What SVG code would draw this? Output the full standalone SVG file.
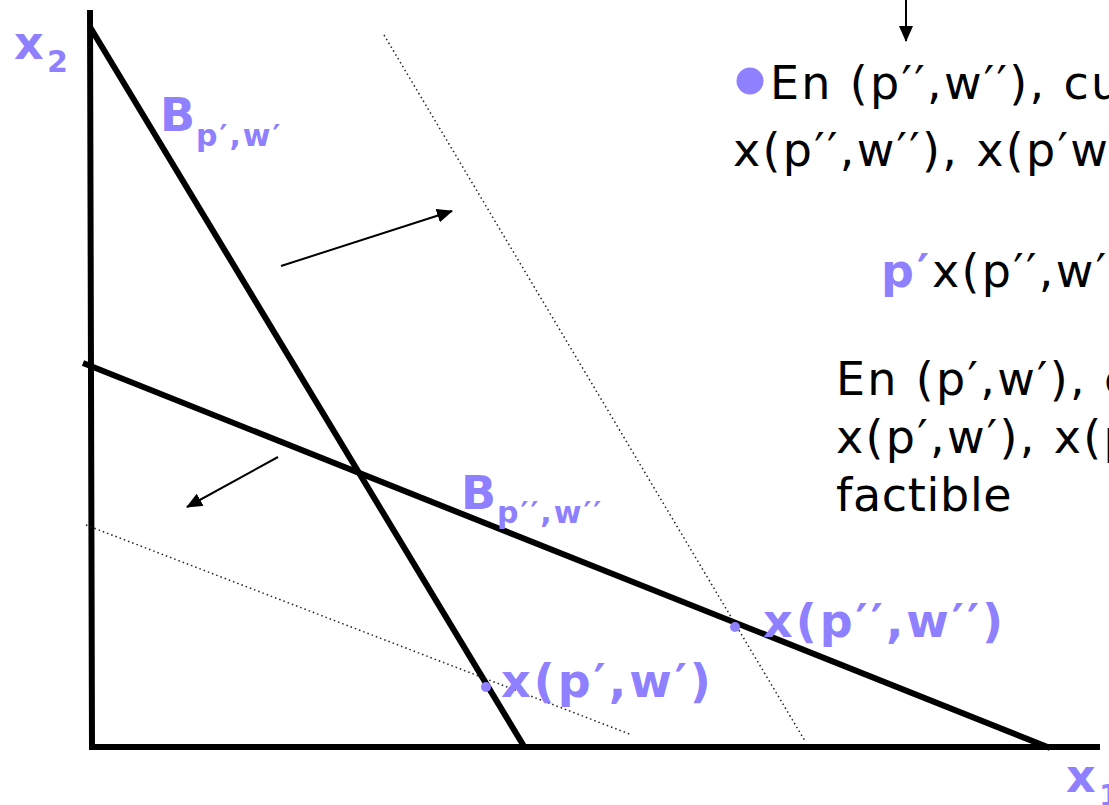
<svg xmlns="http://www.w3.org/2000/svg" width="1109" height="805" viewBox="0 0 1109 805">
<style>
.bold{stroke:#000;stroke-width:6;fill:none}
.dot{stroke:#222;stroke-width:1.5;fill:none;stroke-dasharray:1.5 3}
.arr{stroke:#000;stroke-width:2;fill:none;marker-end:url(#ah)}
.t{font-family:"DejaVu Sans",Verdana,sans-serif;font-size:46px;fill:#000;letter-spacing:2.3px}
.p{font-family:"DejaVu Sans",Verdana,sans-serif;font-weight:bold;fill:#8F80FF}
.L{font-size:46px;letter-spacing:3px}
.S{font-size:30px;letter-spacing:2px}
</style>
<defs>
<marker id="ah" viewBox="0 0 16 14" refX="15" refY="7" markerWidth="16" markerHeight="14" markerUnits="userSpaceOnUse" orient="auto">
<path d="M0,0 L16,7 L0,14 z" fill="#000"/>
</marker>
</defs>
<rect width="1109" height="805" fill="#fff"/>
<g id="axes">
<path class="bold" d="M90,10 L92,747 L1100,747" stroke-linejoin="miter"/>
</g>
<g id="connectors">
<line class="bold" x1="90" y1="27" x2="525" y2="748"/>
<line class="bold" x1="83" y1="363" x2="1050" y2="748"/>
<line class="dot" x1="384" y1="35" x2="805" y2="741"/>
<line class="dot" x1="86" y1="525" x2="632" y2="735"/>
<line class="arr" x1="281" y1="266" x2="452" y2="211"/>
<line class="arr" x1="278" y1="457" x2="187" y2="507"/>
<line class="arr" x1="906" y1="0" x2="906" y2="41"/>
</g>
<g id="label-x2"><text class="p L" x="14" y="59">x</text><text class="p S" x="47" y="72">2</text></g>
<g id="label-x1"><text class="p L" x="1066" y="792">x</text><text class="p S" x="1099" y="806">1</text></g>
<g id="label-Bpw"><text class="p L" x="160" y="131">B</text><text class="p S" x="196" y="146">p′,w′</text></g>
<g id="label-Bpw2"><text class="p L" x="461" y="509">B</text><text class="p S" x="497" y="523">p′′,w′′</text></g>
<g id="point-xpw2"><circle cx="735" cy="627" r="5" fill="#8F80FF"/><text class="p L" x="763" y="637">x(p′′,w′′)</text></g>
<g id="point-xpw"><circle cx="486" cy="687" r="5" fill="#8F80FF"/><text class="p L" x="501" y="697">x(p′,w′)</text></g>
<g id="text-block">
<circle cx="750" cy="81" r="13.5" fill="#8F80FF"/>
<text class="t" x="770" y="99">En (p′′,w′′), cu</text>
<text class="t" x="733" y="166">x(p′′,w′′), x(p′w</text>
<text class="t" x="881" y="287"><tspan class="p L">p′</tspan>x(p′′,w′</text>
<text class="t" x="836" y="395">En (p′,w′), c</text>
<text class="t" x="836" y="453">x(p′,w′), x(p</text>
<text class="t" x="836" y="511" style="letter-spacing:0.7px">factible</text>
</g>
</svg>
